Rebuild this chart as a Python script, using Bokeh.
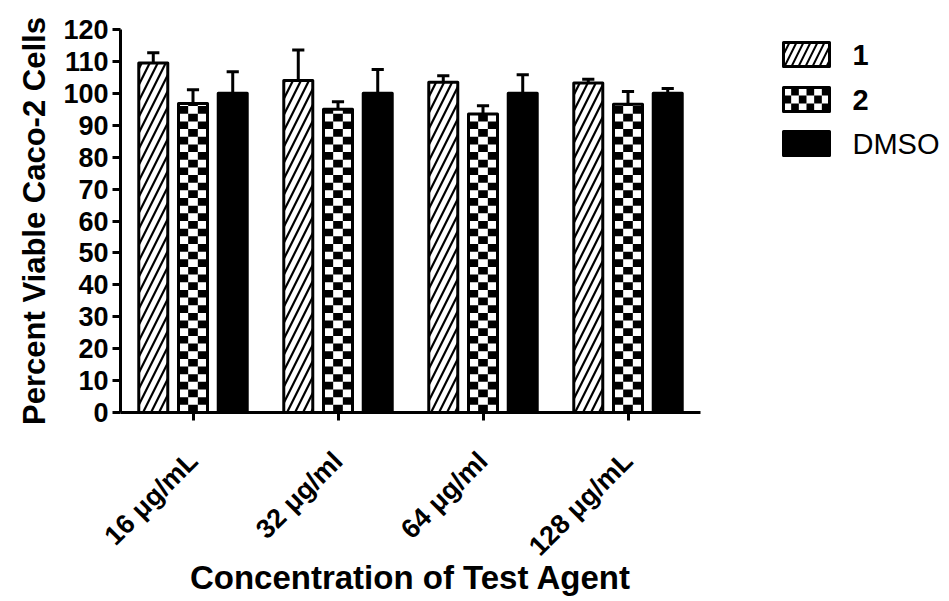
import math
from bokeh.plotting import figure
from bokeh.models import Range1d, FixedTicker
from bokeh.layouts import row
from bokeh.embed import file_html
from bokeh.resources import INLINE

# ---------------- data ----------------
categories = ["16 μg/mL", "32 μg/ml", "64 μg/ml", "128 μg/mL"]
series_names = ["1", "2", "DMSO"]
s1 = [109.5, 104.0, 103.5, 103.2]
s1_err = [3.2, 9.6, 2.0, 1.2]
s2 = [96.8, 95.0, 93.5, 96.6]
s2_err = [4.3, 2.4, 2.6, 4.0]
dmso = [100.0, 100.0, 100.0, 100.0]
dmso_err = [6.8, 7.5, 5.8, 1.5]
y_ticks = list(range(0, 121, 10))

# ---------------- style ----------------
FONT = "Liberation Sans"
W_MAIN, H = 708, 600
W_LEG = 233
TOP, BOTTOM = 29, 188
LW = 3
BAR_W = 0.2
OFFSET = 0.274
CAP = 0.042
CELL_H = 2.4
NCOLS = 3

p = figure(width=W_MAIN, height=H, x_range=Range1d(0, len(categories)),
           y_range=Range1d(0, 120), output_backend="svg", toolbar_location=None,
           min_border_left=120, min_border_right=8, min_border_top=TOP,
           min_border_bottom=BOTTOM)
p.outline_line_color = None
p.grid.visible = False

centers = [i + 0.5 for i in range(len(categories))]
x1 = [c - OFFSET for c in centers]
x2 = centers
x3 = [c + OFFSET for c in centers]

# series 1: hatched
p.vbar(x=x1, top=s1, bottom=0, width=BAR_W, fill_color="white", line_color="black",
       line_width=LW, line_join="round", hatch_pattern="/", hatch_color="black",
       hatch_weight=2.2, hatch_scale=16)

# series 2: checkerboard
p.vbar(x=x2, top=s2, bottom=0, width=BAR_W, fill_color="white", line_color=None)
L, R, B, T = [], [], [], []
cw = BAR_W / NCOLS
for c, v in zip(x2, s2):
    x0 = c - BAR_W / 2
    nrows = math.ceil(v / CELL_H)
    for i in range(nrows):
        for j in range(NCOLS):
            if (i + j) % 2 == 1:
                L.append(x0 + j * cw)
                R.append(x0 + (j + 1) * cw)
                B.append(i * CELL_H)
                T.append(min((i + 1) * CELL_H, v))
p.quad(left=L, right=R, bottom=B, top=T, fill_color="black", line_color=None)
p.vbar(x=x2, top=s2, bottom=0, width=BAR_W, fill_color=None, line_color="black",
       line_width=LW, line_join="round")

# DMSO: solid
p.vbar(x=x3, top=dmso, bottom=0, width=BAR_W, fill_color="black", line_color="black",
       line_width=LW, line_join="round")

# error bars (upper only)
for xs, vals, errs in ((x1, s1, s1_err), (x2, s2, s2_err), (x3, dmso, dmso_err)):
    tops = [v + e for v, e in zip(vals, errs)]
    p.segment(x0=xs, y0=vals, x1=xs, y1=tops, line_color="black", line_width=LW)
    p.segment(x0=[x - CAP for x in xs], y0=tops, x1=[x + CAP for x in xs], y1=tops,
              line_color="black", line_width=LW)

# axes
p.xaxis.ticker = FixedTicker(ticks=centers)
p.xaxis.major_label_overrides = {c: lab for c, lab in zip(centers, categories)}
p.yaxis.ticker = FixedTicker(ticks=y_ticks)
for ax in (p.xaxis[0], p.yaxis[0]):
    ax.axis_line_width = LW
    ax.axis_line_color = "black"
    ax.major_tick_line_width = LW
    ax.major_tick_line_color = "black"
    ax.major_tick_out = 8
    ax.major_tick_in = 0
    ax.minor_tick_line_color = None
    ax.major_label_text_font = FONT
    ax.major_label_text_font_style = "bold"
    ax.major_label_text_font_size = "27px"
    ax.major_label_text_color = "black"
    ax.axis_label_text_font = FONT
    ax.axis_label_text_font_style = "bold"
    ax.axis_label_text_color = "black"
p.xaxis.axis_label_text_font_size = "33px"
p.yaxis.axis_label_text_font_size = "31px"
p.xaxis.major_label_orientation = math.pi / 4
p.xaxis.axis_label = "Concentration of Test Agent"
p.yaxis.axis_label = "Percent Viable Caco-2 Cells"
p.yaxis.axis_label_standoff = 8
p.yaxis.major_label_standoff = 4
p.xaxis.major_label_standoff = 36
p.xaxis.axis_label_standoff = -16

# ---------------- legend panel ----------------
frame_top_px, frame_bot_px = TOP, H - BOTTOM
leg = figure(width=W_LEG, height=H, x_range=Range1d(0, W_LEG),
             y_range=Range1d(frame_bot_px, frame_top_px),
             output_backend="svg", toolbar_location=None, min_border_left=0,
             min_border_right=0, min_border_top=TOP, min_border_bottom=BOTTOM,
             x_axis_location=None, y_axis_location=None)
leg.outline_line_color = None
leg.grid.visible = False

box_l, box_r = 75, 121
box_half_h = 12
row_y = [54, 99, 143]
text_x = 144

# row 1: hatched
leg.quad(left=[box_l], right=[box_r], bottom=[row_y[0] + box_half_h], top=[row_y[0] - box_half_h],
         fill_color="white", line_color="black", line_width=LW, line_join="round",
         hatch_pattern="/", hatch_color="black", hatch_weight=2, hatch_scale=14)
# row 2: checker
leg.quad(left=[box_l], right=[box_r], bottom=[row_y[1] + box_half_h], top=[row_y[1] - box_half_h],
         fill_color="white", line_color=None)
lL, lR, lB, lT = [], [], [], []
ncl, nrl = 6, 3
cwl = (box_r - box_l) / ncl
chl = 2 * box_half_h / nrl
for i in range(nrl):
    for j in range(ncl):
        if (i + j) % 2 == 1:
            lL.append(box_l + j * cwl)
            lR.append(box_l + (j + 1) * cwl)
            lT.append(row_y[1] - box_half_h + i * chl)
            lB.append(row_y[1] - box_half_h + (i + 1) * chl)
leg.quad(left=lL, right=lR, bottom=lB, top=lT, fill_color="black", line_color=None)
leg.quad(left=[box_l], right=[box_r], bottom=[row_y[1] + box_half_h], top=[row_y[1] - box_half_h],
         fill_color=None, line_color="black", line_width=LW, line_join="round")
# row 3: solid
leg.quad(left=[box_l], right=[box_r], bottom=[row_y[2] + box_half_h], top=[row_y[2] - box_half_h],
         fill_color="black", line_color="black", line_width=LW, line_join="round")

styles = ["bold", "bold", "normal"]
for name, yy, st in zip(series_names, row_y, styles):
    leg.text(x=[text_x], y=[yy], text=[name], text_font_size="29px",
             text_font_style=st, text_baseline="middle", text_align="left",
             text_color="black", text_font={"value": FONT})

layout = row(p, leg)
open("out.html", "w").write(file_html(layout, INLINE))
